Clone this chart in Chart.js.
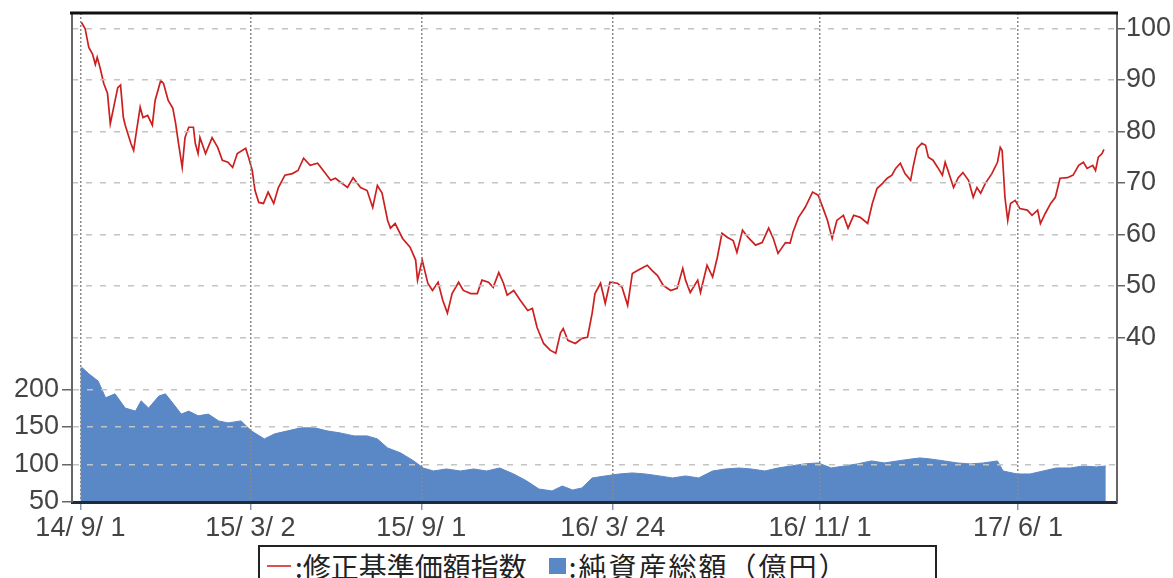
<!DOCTYPE html>
<html>
<head>
<meta charset="utf-8">
<script src="https://cdn.jsdelivr.net/npm/chart.js@4.4.1/dist/chart.umd.min.js"></script>
<style>
  html, body { margin: 0; padding: 0; background: #fff; }
  #wrap { position: relative; width: 1173px; height: 578px; overflow: hidden; }
  #legend {
    position: absolute; left: 258px; top: 545px; width: 679px; height: 42px;
    box-sizing: border-box; border: 2px solid #222; background: #fff;
    font-family: "Noto Sans CJK JP", sans-serif; font-size: 28px; color: #222;
    display: flex; align-items: center; white-space: nowrap; line-height: 34px;
  }
  #legend .line { display: inline-block; width: 24px; height: 2px; background: #d9534f; margin: 0 4px 0 7px; }
  #legend .sq { display: inline-block; width: 17px; height: 16px; background: #5a87c6; margin: 0 3px 0 22px; }
  #legend .wide { letter-spacing: 2px; }
</style>
</head>
<body>
<div id="wrap">
  <canvas id="chart"></canvas>
  <div id="legend"><span class="line"></span><span>:修正基準価額指数</span><span class="sq"></span><span class="wide">:純資産総額（億円）</span></div>
</div>
<script>
// days since 2014-09-01
const tickDays = [0, 182, 365, 570, 792, 1004];
const tickLabels = ["14/ 9/ 1", "15/ 3/ 2", "15/ 9/ 1", "16/ 3/ 24", "16/ 11/ 1", "17/ 6/ 1"];
const navTicks = [40, 50, 60, 70, 80, 90, 100];
const assetTicks = [50, 100, 150, 200];

// 修正基準価額指数
const navDays = [1,5,9,13,16,18,21,25,29,32,40,43,46,48,54,57,59,64,67,72,
  77,80,86,89,94,99,102,105,109,112,116,121,123,126,128,134,141,147,152,158,
  163,168,177,180,184,187,191,196,201,207,212,219,227,233,239,246,254,260,268,273,
  286,292,300,307,313,318,323,329,332,337,345,353,359,361,366,372,377,383,388,393,
  398,405,410,418,425,430,437,442,448,453,457,464,471,479,484,489,496,503,509,514,
  517,522,530,537,543,548,551,557,562,567,575,580,586,591,597,607,612,618,624,632,
  639,645,648,653,661,664,671,677,682,687,693,699,703,709,715,723,730,737,742,747,
  755,760,763,769,776,784,790,796,800,805,810,817,822,828,835,843,848,853,859,864,
  869,873,878,883,889,892,896,901,905,908,913,918,923,926,929,935,940,945,951,956,
  960,964,969,976,982,985,987,990,993,996,1001,1006,1014,1019,1025,1028,1033,1039,1044,1049,
  1057,1063,1069,1074,1078,1084,1087,1090,1094,1096];
const navValues = [101.2,100,96.3,95,93,94.4,92.4,89.3,87.4,81.5,88.5,89,82.7,81.2,77.7,76.3,78.8,84.7,82.7,83.1,
  81.2,86,89.9,89.3,86,84.5,81.5,77.7,73,78.8,80.8,80.8,77.7,75.7,78.8,75.7,78.8,76.9,74.4,74,
  73,75.7,76.7,75,72.4,68.5,66.2,66,68.2,66,69.1,71.5,71.8,72.4,74.8,73.4,73.8,72.4,70.5,70.9,
  69.1,71,69.1,68.5,65.2,69.5,68,62.7,61.2,62.1,59.2,57.5,55,51.1,55,50.5,49.1,50.7,47.2,44.7,
  48.5,50.7,49.1,48.5,48.5,51.1,50.7,49.7,52.6,50.5,48.2,49.1,47.2,45.2,45.6,41.9,38.8,37.5,36.9,40.8,
  41.7,39.4,38.8,39.8,40,44.7,48.5,50.5,46.6,50.7,50.5,49.7,46.2,52.4,53,54,53,52,50.1,49.1,
  49.5,53.4,51.1,48.7,51.1,48.7,54,51.7,55.5,60.2,59.4,58.8,56.5,60.8,59.4,57.9,58.4,61.2,59.2,56.3,
  58.4,58.3,60.4,63.3,65.2,68.2,67.6,64.7,62.7,59.2,62.7,63.7,61.2,63.7,63.3,62.1,66,68.9,69.9,70.9,
  71.5,72.8,73.8,71.8,70.5,73.4,76.7,77.7,77.3,75,74.4,73,71.5,74,72.4,69.1,71,72,70.5,67.2,
  69.1,68,69.9,71.8,74,76.9,76.3,67.2,62.7,66,66.6,65,64.7,63.7,64.7,62.1,64,66,67.2,70.9,
  71,71.5,73.4,74,72.8,73.4,72.4,75,75.7,76.5];

// 純資産総額(億円)
const assetDays = [0,2,9,19,27,37,48,59,65,73,84,91,97,108,116,126,137,148,158,172,
  183,197,208,222,236,251,264,278,293,307,318,329,343,357,367,378,392,407,421,435,
  449,464,478,491,505,516,527,537,548,562,577,591,605,620,634,648,662,677,691,705,
  718,733,747,761,775,790,804,818,832,847,861,875,890,899,910,925,939,953,967,982,
  988,1003,1017,1031,1045,1060,1074,1088,1098];
const assetValues = [228,228.7,220.7,211,188.7,194,175,171,184.7,175,191,194,184.7,167,171,164.7,167,158,155.3,158,
  144.7,134,140.7,144.7,148.7,148.7,144.7,142,138,138,134,122,115.3,104.7,95.3,91.3,94,91.3,94,91.3,
  95.3,87.3,78,67.3,64.7,71.3,66,68.7,82,84.7,87.3,88.7,87.3,84.7,82,84.7,82,91.3,94,95.3,
  94,91.3,95.3,98,100.7,102,95.3,98,100.7,104.7,102,104.7,107.3,108.7,107.3,104.7,102,100.7,102,104.7,
  91.3,87.3,87.3,91.3,95.3,95.3,98,96.7,98];

const tickFont = { family: "'Liberation Sans', Arial, sans-serif", size: 27 };

// no label overhang padding, the frame is fixed
function noPad(s) {
  s.paddingTop = 0;
  s.paddingBottom = 0;
  s.paddingLeft = 0;
  s.paddingRight = 0;
}

const frame = {
  id: "frame",
  afterDraw(chart) {
    const { ctx, chartArea: a } = chart;
    ctx.save();
    ctx.strokeStyle = "#111";
    ctx.lineWidth = 3;
    ctx.beginPath();
    ctx.moveTo(a.left - 2, a.top);
    ctx.lineTo(a.right + 1, a.top);
    ctx.stroke();
    ctx.restore();
  },
};

const cv = document.getElementById("chart");
cv.width = 1173;
cv.height = 578;

new Chart(cv.getContext("2d"), {
  type: "line",
  data: {
    datasets: [
      {
        label: "修正基準価額指数",
        data: navDays.map((d, i) => ({ x: d, y: navValues[i] })),
        yAxisID: "yR",
        borderColor: "#cc2020",
        borderWidth: 1.7,
        pointRadius: 0,
        tension: 0,
        fill: false,
        order: 0,
      },
      {
        label: "純資産総額(億円)",
        data: assetDays.map((d, i) => ({ x: d, y: assetValues[i] })),
        yAxisID: "yL",
        borderColor: "#5a87c6",
        backgroundColor: "#5a87c6",
        borderWidth: 1,
        pointRadius: 0,
        tension: 0,
        fill: "start",
        order: 1,
      },
    ],
  },
  options: {
    responsive: false,
    animation: false,
    layout: { padding: { top: 13, right: 0, left: 0, bottom: 0 } },
    plugins: { legend: { display: false }, tooltip: { enabled: false } },
    scales: {
      x: {
        type: "linear",
        min: -9,
        max: 1110,
        afterBuildTicks: (s) => { s.ticks = tickDays.map((v) => ({ value: v })); },
        afterFit: (s) => { s.height = 76; noPad(s); },
        ticks: {
          autoSkip: false,
          maxRotation: 0,
          padding: 2,
          color: "#444",
          font: tickFont,
          callback: (v, i) => tickLabels[i],
        },
        grid: { color: "#8a8a8a", lineWidth: 1.5, tickLength: 8, tickColor: "#8a9ab0", z: 1 },
        border: { color: "#1e2b3c", width: 3, dash: [2, 2], z: 2 },
      },
      yL: {
        position: "left",
        min: 50,
        max: 701,
        afterBuildTicks: (s) => { s.ticks = assetTicks.map((v) => ({ value: v })); },
        afterFit: (s) => { s.width = 72; noPad(s); },
        ticks: { color: "#444", font: tickFont, padding: 3 },
        grid: {
          color: (c) => (c.tick && c.tick.value === 50 ? "rgba(0,0,0,0)" : "#c4c4c4"),
          lineWidth: 1.5,
          tickLength: 10,
          tickColor: "#666",
          z: 1,
        },
        border: { color: "#666", width: 2, dash: [6, 8], z: 2 },
      },
      yR: {
        position: "right",
        min: 8,
        max: 103,
        afterBuildTicks: (s) => { s.ticks = navTicks.map((v) => ({ value: v })); },
        afterFit: (s) => { s.width = 56; noPad(s); },
        ticks: { color: "#444", font: tickFont, padding: 1 },
        grid: { color: "#c4c4c4", lineWidth: 1.5, tickLength: 8, tickColor: "#666", z: 1 },
        border: { color: "#666", width: 2, dash: [6, 8], z: 2 },
      },
    },
  },
  plugins: [frame],
});
</script>
</body>
</html>
